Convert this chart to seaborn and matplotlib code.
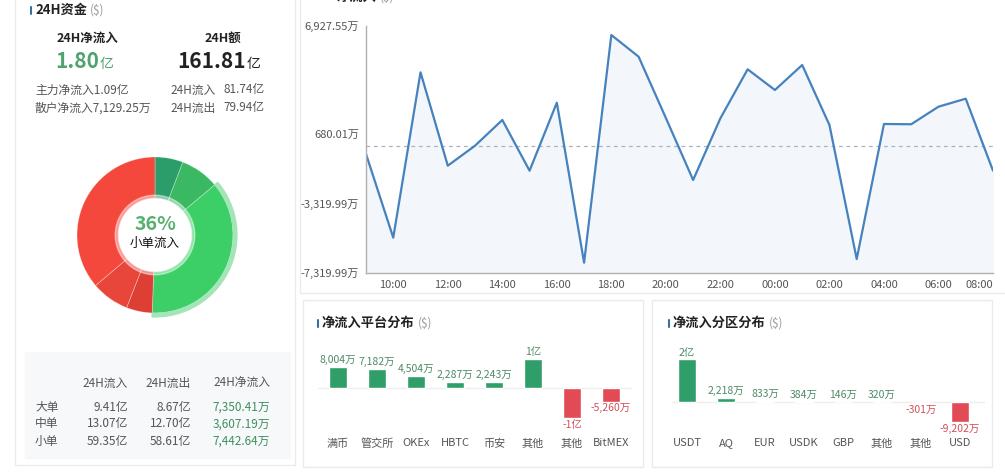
import matplotlib
matplotlib.use("Agg")
import matplotlib.pyplot as plt
import seaborn as sns
import pandas as pd
from matplotlib.patches import Rectangle, Wedge

W, H = 1005, 475

# ---- data ----
hours = ["09:00", "10:00", "11:00", "12:00", "13:00", "14:00", "15:00", "16:00",
         "17:00", "18:00", "19:00", "20:00", "21:00", "22:00", "23:00", "00:00",
         "01:00", "02:00", "03:00", "04:00", "05:00", "06:00", "07:00", "08:00"]
net_flow = [-455, -5283, 4256, -1130, 24, 1506, -1419, 2503,
            -6725, 6408, 5157, 1621, -1955, 1603, 4430, 3236,
            4678, 1217, -6512, 1275, 1260, 2273, 2734, -1419]
y_ticks = [-7319.99, -3319.99, 680.01, 6927.55]
ref_level = 0

order_types = ["大单", "中单", "小单"]
inflow = [9.41, 13.07, 59.35]
outflow = [8.67, 12.70, 58.61]
net_text = ["7,350.41万", "3,607.19万", "7,442.64万"]

platform_names = ["满币", "管交所", "OKEx", "HBTC", "币安", "其他", "其他", "BitMEX"]
platform_values = [8004, 7182, 4504, 2287, 2243, 11000, -11500, -5260]
platform_labels = ["8,004万", "7,182万", "4,504万", "2,287万", "2,243万", "1亿", "-1亿", "-5,260万"]

zone_names = ["USDT", "AQ", "EUR", "USDK", "GBP", "其他", "其他", "USD"]
zone_values = [20000, 2218, 833, 384, 146, 320, -301, -9202]
zone_labels = ["2亿", "2,218万", "833万", "384万", "146万", "320万", "-301万", "-9,202万"]

GREEN = "#2f9e68"
RED = "#e24a55"
GRAY = "#555555"

sns.set_theme(style="white")
plt.rcParams["font.family"] = ["Noto Sans CJK SC", "DejaVu Sans"]

fig = plt.figure(figsize=(W / 100, H / 100), dpi=100)
renderer = fig.canvas.get_renderer()


def fx(x):
    return x / W


def fy(y):
    return 1 - y / H


def box(x0, y0, x1, y1):
    return [fx(x0), fy(y1), (x1 - x0) / W, (y1 - y0) / H]


def card(x0, y0, x1, y1, fc="white", ec="#ebebeb"):
    fig.add_artist(Rectangle((fx(x0), fy(y1)), (x1 - x0) / W, (y1 - y0) / H,
                             transform=fig.transFigure, facecolor=fc,
                             edgecolor=ec, lw=1, zorder=-1))


def txt(x, y, s, **kw):
    kw.setdefault("va", "center")
    kw.setdefault("color", GRAY)
    kw.setdefault("fontsize", 8.5)
    return fig.text(fx(x), fy(y), s, **kw)


def title(x, y, s, bar=True):
    if bar:
        fig.add_artist(plt.Line2D([fx(x - 4), fx(x - 4)], [fy(y - 3), fy(y + 4)],
                                  transform=fig.transFigure, color="#3a6ea5", lw=1.5))
    t = txt(x, y, s, fontsize=9.5, fontweight="bold", color="#222222")
    end = t.get_window_extent(renderer).x1
    txt(end + 3, y, "($)", fontsize=8.5, color="#999999")


# ---- cards ----
card(15, -5, 295, 465)
card(300, -5, 1010, 293)
card(303, 300, 643, 467)
card(652, 300, 992, 467)
card(25, 352, 290, 458, fc="#f7f8fa", ec="#f7f8fa")

# ---- left summary ----
title(35, 10, "24H资金")
txt(87, 38, "24H净流入", ha="center", fontsize=9, fontweight="bold", color="#222222")
txt(99, 68, "1.80", ha="right", va="baseline", fontsize=15, fontweight="bold", color="#4fa36f")
txt(100, 68, "亿", ha="left", va="baseline", fontsize=10, color="#4fa36f")
txt(223, 38, "24H额", ha="center", fontsize=9, fontweight="bold", color="#222222")
txt(246, 68, "161.81", ha="right", va="baseline", fontsize=15, fontweight="bold", color="#222222")
txt(247, 68, "亿", ha="left", va="baseline", fontsize=10, color="#222222")
txt(35, 90, "主力净流入1.09亿")
txt(35, 108, "散户净流入7,129.25万")
txt(170, 90, "24H流入")
txt(223, 90, "81.74亿")
txt(170, 108, "24H流出")
txt(223, 108, "79.94亿")

# ---- donut ----
ax_d = fig.add_axes(box(70, 150, 240, 320))
slices = inflow + outflow
colors = ["#2a9d6a", "#3bb862", "#3ccf68", "#dd3f35", "#e8453b", "#f5483d"]
ax_d.pie(slices, colors=colors, startangle=90, counterclock=False, radius=1.0,
         wedgeprops=dict(width=0.53, edgecolor="#ffffff66", linewidth=0.5))
total = sum(slices)
start = 90 - 360 * sum(inflow[:2]) / total
end = 90 - 360 * sum(inflow) / total
ax_d.add_patch(Wedge((0, 0), 1.05, end, start, width=0.045, color="#a4e5b7"))
ax_d.add_patch(Wedge((0, 0), 0.51, 0, 360, width=0.04, color="white", alpha=0.45))
ax_d.set_xlim(-85 / 78, 85 / 78)
ax_d.set_ylim(-85 / 78, 85 / 78)
ax_d.set_aspect("equal")
ax_d.axis("off")
share = int(inflow[2] / total * 100)
txt(155, 225, f"{share}%", ha="center", fontsize=14, fontweight="bold", color="#56b06f")
txt(155, 243, "小单流入", ha="center", fontsize=9, color="#111111")

# ---- table ----
col_x = [128, 191, 270]
for cx, head in zip(col_x, ["24H流入", "24H流出", "24H净流入"]):
    txt(cx, 383, head, ha="right")
for i, name in enumerate(order_types):
    ry = 407 + 17 * i
    txt(35, ry, name)
    txt(col_x[0], ry, f"{inflow[i]:.2f}亿", ha="right")
    txt(col_x[1], ry, f"{outflow[i]:.2f}亿", ha="right")
    txt(col_x[2], ry, net_text[i], ha="right", color="#3f8f5f")

# ---- line chart ----
ax = fig.add_axes(box(366, 26, 993, 273))
ax.patch.set_alpha(0)
idx = list(range(len(hours)))
df = pd.DataFrame({"t": idx, "v": net_flow})
sns.lineplot(data=df, x="t", y="v", ax=ax, color="#4682bd", linewidth=1.6)
ax.fill_between(idx, net_flow, y_ticks[0], color="#f3f7fc", zorder=0)
ax.axhline(ref_level, color="#aab4c0", lw=0.9, ls=(0, (3, 3)), zorder=1)
ax.set_xlim(0, len(hours) - 1)
ax.set_ylim(y_ticks[0], y_ticks[-1])
ax.set_yticks(y_ticks)
ax.set_yticklabels([f"{v:,.2f}万" for v in y_ticks])
xt = idx[1::2]
ax.set_xticks(xt)
ax.set_xticklabels([hours[i] for i in xt])
ax.get_xticklabels()[-1].set_horizontalalignment("right")
ax.set_xlabel("")
ax.set_ylabel("")
for s in ["top", "right"]:
    ax.spines[s].set_visible(False)
for s in ["left", "bottom"]:
    ax.spines[s].set_color("#b0b0b0")
    ax.spines[s].set_linewidth(1)
ax.tick_params(axis="y", length=4, width=1, color="#b0b0b0", labelsize=8, labelcolor=GRAY, pad=1)
ax.tick_params(axis="x", length=0, labelsize=8, labelcolor=GRAY, pad=5)
# title of the line card, mostly above the visible area in the reference
title(337, -3, "净流入", bar=False)


# ---- bar charts ----
def bars(rect, names, values, labels, xlim, ylim):
    axb = fig.add_axes(box(*rect))
    axb.patch.set_alpha(0)
    d = pd.DataFrame({"pos": range(len(names)), "v": values,
                      "sign": ["p" if v >= 0 else "n" for v in values]})
    sns.barplot(data=d, x="pos", y="v", hue="sign", palette={"p": GREEN, "n": RED},
                dodge=False, width=0.46, legend=False, ax=axb, saturation=1)
    axb.axhline(0, color="#eeeeee", lw=1, zorder=0)
    axb.set_xlim(*xlim)
    axb.set_ylim(*ylim)
    span = ylim[1] - ylim[0]
    for i, (v, lab) in enumerate(zip(values, labels)):
        if v >= 0:
            axb.text(i, v + span * 0.02, lab, ha="center", va="bottom",
                     fontsize=7.5, color="#4d8a66")
        else:
            axb.text(i, v - span * 0.02, lab, ha="center", va="top",
                     fontsize=7.5, color="#d0505a")
    axb.set_xticks(range(len(names)))
    axb.set_xticklabels(names)
    axb.tick_params(axis="x", length=0, labelsize=8, labelcolor=GRAY, pad=6)
    axb.set_yticks([])
    axb.set_xlabel("")
    axb.set_ylabel("")
    sns.despine(ax=axb, left=True, bottom=True)


title(322, 323, "净流入平台分布")
bars((318, 345, 632, 430), platform_names, platform_values, platform_labels,
     (-0.513, 7.54), (-16120, 16270))
title(673, 323, "净流入分区分布")
bars((672, 345, 985, 430), zone_names, zone_values, zone_labels,
     (-0.385, 7.64), (-12880, 26650))

fig.savefig("out.png", dpi=100)
